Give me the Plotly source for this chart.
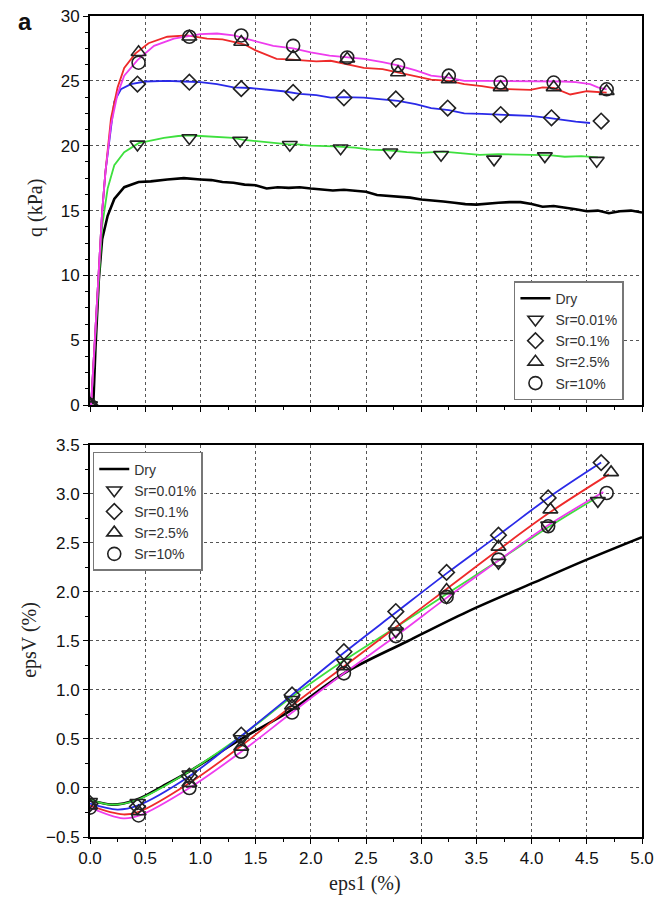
import plotly.graph_objects as go

# ---------------- data: top panel (q vs eps1) ----------------
dry_x = [0.0, 0.03, 0.05, 0.08, 0.11, 0.16, 0.22, 0.31, 0.44, 0.55, 0.7, 0.85, 1.0, 1.1, 1.2, 1.3, 1.4, 1.5,
         1.6, 1.7, 1.8, 1.9, 2.0, 2.1, 2.2, 2.3, 2.4, 2.5, 2.6, 2.7, 2.8, 2.9, 3.0, 3.1, 3.2, 3.3, 3.4, 3.5,
         3.6, 3.7, 3.8, 3.9, 4.0, 4.1, 4.2, 4.3, 4.4, 4.5, 4.6, 4.7, 4.8, 4.9, 5.0]
dry_q = [0.5, 0.1, 4.5, 9.7, 12.8, 14.6, 15.9, 16.8, 17.2, 17.25, 17.4, 17.5, 17.4, 17.35, 17.2, 17.15, 17.0,
         16.95, 16.7, 16.8, 16.75, 16.8, 16.7, 16.65, 16.55, 16.6, 16.5, 16.45, 16.2, 16.15, 16.05, 16.0, 15.85,
         15.8, 15.7, 15.6, 15.5, 15.46, 15.55, 15.6, 15.65, 15.65, 15.5, 15.3, 15.35, 15.25, 15.1, 14.95, 15.0,
         14.8, 14.95, 15.0, 14.85]

g_x = [0.01, 0.05, 0.08, 0.11, 0.16, 0.22, 0.31, 0.44, 0.55, 0.67, 0.8, 0.9, 1.0, 1.16, 1.3, 1.39, 1.5, 1.65,
       1.8, 1.88, 2.0, 2.21, 2.4, 2.54, 2.7, 2.87, 3.0, 3.2, 3.35, 3.53, 3.7, 3.85, 4.0, 4.18, 4.3, 4.45, 4.6]
g_q = [0, 5.8, 10.2, 13.8, 16.7, 18.5, 19.5, 20.2, 20.4, 20.6, 20.75, 20.8, 20.75, 20.7, 20.6, 20.45, 20.35,
       20.2, 20.1, 20.1, 20.0, 19.95, 19.85, 19.7, 19.65, 19.5, 19.45, 19.55, 19.45, 19.3, 19.35, 19.35, 19.3,
       19.25, 19.15, 19.2, 19.1]

b_x = [0.01, 0.05, 0.08, 0.11, 0.14, 0.19, 0.22, 0.28, 0.37, 0.5, 0.7, 0.85, 1.0, 1.15, 1.3, 1.45, 1.6, 1.75,
       1.9, 2.05, 2.18, 2.3, 2.48, 2.6, 2.79, 2.95, 3.09, 3.25, 3.39, 3.55, 3.69, 3.85, 3.99, 4.15, 4.29, 4.4, 4.53]
b_q = [0, 5.8, 11, 14.9, 18, 21.5, 23.4, 24.35, 24.75, 24.95, 25.0, 24.95, 24.9, 24.75, 24.5, 24.45, 24.35,
       24.2, 24.0, 23.9, 23.7, 23.75, 23.7, 23.6, 23.45, 23.2, 22.9, 22.75, 22.5, 22.45, 22.4, 22.35, 22.3,
       22.15, 21.95, 21.85, 21.75]

r_x = [0.01, 0.05, 0.08, 0.11, 0.14, 0.19, 0.25, 0.31, 0.41, 0.53, 0.7, 0.88, 1.06, 1.2, 1.3, 1.4, 1.5, 1.6,
       1.69, 1.8, 1.9, 2.05, 2.18, 2.33, 2.48, 2.65, 2.79, 2.95, 3.09, 3.25, 3.39, 3.55, 3.69, 3.85, 3.99, 4.1,
       4.2, 4.35, 4.5, 4.68]
r_q = [0, 5.8, 11, 14.9, 18, 22.1, 24.5, 26.0, 27.1, 27.9, 28.4, 28.5, 28.25, 28.2, 28.0, 27.8, 27.35, 27.0,
       26.7, 26.65, 26.6, 26.5, 26.55, 26.3, 26.0, 25.9, 25.65, 25.4, 25.1, 25.0, 24.75, 24.6, 24.4, 24.35,
       24.3, 24.5, 24.45, 23.95, 24.2, 24.1]

m_x = [0.01, 0.05, 0.08, 0.11, 0.14, 0.19, 0.25, 0.31, 0.43, 0.58, 0.76, 0.9, 1.0, 1.15, 1.3, 1.48, 1.66, 1.84,
       2.0, 2.17, 2.33, 2.48, 2.65, 2.79, 2.95, 3.09, 3.25, 3.39, 3.55, 3.69, 3.85, 3.99, 4.15, 4.29, 4.4, 4.53,
       4.6, 4.68]
m_q = [0, 5.8, 11, 14.9, 18, 21.6, 24.0, 25.4, 26.6, 27.7, 28.26, 28.45, 28.6, 28.65, 28.5, 28.1, 27.7, 27.5,
       27.2, 26.95, 26.8, 26.7, 26.45, 26.2, 25.8, 25.4, 25.25, 25.0, 25.0, 25.0, 24.95, 25.0, 24.95, 24.95,
       24.9, 24.75, 24.5, 24.35]

# top-panel markers
g_mx = [0.0, 0.43, 0.9, 1.36, 1.81, 2.27, 2.72, 3.18, 3.66, 4.12, 4.59]
g_mq = [0.0, 20.1, 20.6, 20.4, 20.08, 19.8, 19.5, 19.3, 18.95, 19.2, 18.85]
b_mx = [0.0, 0.43, 0.9, 1.37, 1.84, 2.3, 2.77, 3.24, 3.72, 4.18, 4.63]
b_mq = [0.0, 24.75, 24.9, 24.4, 24.1, 23.7, 23.6, 22.9, 22.4, 22.15, 21.9]
r_mx = [0.0, 0.44, 0.9, 1.37, 1.84, 2.33, 2.79, 3.25, 3.72, 4.2, 4.68]
r_mq = [0.0, 27.2, 28.4, 28.0, 26.85, 26.7, 25.65, 25.1, 24.5, 24.5, 24.2]
m_mx = [0.0, 0.44, 0.9, 1.37, 1.84, 2.33, 2.79, 3.25, 3.72, 4.2, 4.68]
m_mq = [0.0, 26.4, 28.4, 28.5, 27.7, 26.8, 26.2, 25.4, 24.87, 24.87, 24.35]

# ---------------- data: bottom panel (epsV vs eps1) ----------------
dry_vx = [0.0, 0.2, 0.42, 0.66, 0.9, 1.37, 1.83, 2.3, 2.88, 3.42, 4.03, 4.5, 5.0]
dry_v = [-0.12, -0.17, -0.12, 0.02, 0.17, 0.5, 0.8, 1.17, 1.5, 1.8, 2.1, 2.33, 2.56]
g_vx = [0.0, 0.2, 0.43, 0.9, 1.37, 1.83, 2.3, 2.77, 3.23, 3.7, 4.15, 4.6]
g_v = [-0.12, -0.17, -0.12, 0.17, 0.53, 0.93, 1.3, 1.64, 1.98, 2.32, 2.66, 2.97]
b_vx = [0.0, 0.25, 0.43, 0.9, 1.37, 1.83, 2.3, 2.77, 3.23, 3.7, 4.15, 4.63]
b_v = [-0.16, -0.22, -0.18, 0.12, 0.53, 0.95, 1.38, 1.79, 2.19, 2.58, 2.96, 3.32]
r_vx = [0.0, 0.3, 0.45, 0.9, 1.37, 1.83, 2.3, 2.77, 3.23, 3.7, 4.15, 4.7]
r_v = [-0.18, -0.27, -0.24, 0.05, 0.43, 0.84, 1.24, 1.64, 2.03, 2.43, 2.8, 3.2]
m_vx = [0.0, 0.3, 0.45, 0.9, 1.37, 1.83, 2.3, 2.77, 3.23, 3.7, 4.15, 4.65]
m_v = [-0.2, -0.31, -0.28, 0.0, 0.37, 0.77, 1.17, 1.55, 1.94, 2.32, 2.68, 3.02]

g_mvx = [0.0, 0.43, 0.9, 1.37, 1.83, 2.3, 2.77, 3.23, 3.7, 4.15, 4.6]
g_mv = [-0.14, -0.15, 0.14, 0.5, 0.9, 1.28, 1.6, 1.95, 2.3, 2.68, 2.93]
b_mvx = [0.0, 0.43, 0.9, 1.37, 1.83, 2.3, 2.77, 3.23, 3.7, 4.15, 4.63]
b_mv = [-0.16, -0.19, 0.12, 0.54, 0.95, 1.39, 1.8, 2.2, 2.58, 2.96, 3.32]
r_mvx = [0.0, 0.44, 0.9, 1.37, 1.83, 2.3, 2.77, 3.23, 3.7, 4.17, 4.72]
r_mv = [-0.18, -0.24, 0.05, 0.42, 0.84, 1.24, 1.65, 2.02, 2.46, 2.84, 3.22]
m_mvx = [0.0, 0.44, 0.9, 1.37, 1.83, 2.3, 2.77, 3.23, 3.7, 4.15, 4.68]
m_mv = [-0.2, -0.28, 0.0, 0.37, 0.77, 1.17, 1.55, 1.95, 2.33, 2.67, 3.01]

labels = ["Sr=0.01%", "Sr=0.1%", "Sr=2.5%", "Sr=10%"]
colors = ["#3ee03e", "#2a2ae8", "#ee2a2a", "#ee3cee"]
symbols = ["triangle-down-open", "diamond-open", "triangle-up-open", "circle-open"]
msizes = [13, 12, 13, 13]

fig = go.Figure()

top_lines = [(g_x, g_q), (b_x, b_q), (r_x, r_q), (m_x, m_q)]
top_marks = [(g_mx, g_mq), (b_mx, b_mq), (r_mx, r_mq), (m_mx, m_mq)]
bot_lines = [(g_vx, g_v), (b_vx, b_v), (r_vx, r_v), (m_vx, m_v)]
bot_marks = [(g_mvx, g_mv), (b_mvx, b_mv), (r_mvx, r_mv), (m_mvx, m_mv)]

# top panel
fig.add_trace(go.Scatter(x=dry_x, y=dry_q, mode="lines", line=dict(color="black", width=2.6),
                         name="Dry", legend="legend", xaxis="x", yaxis="y"))
for i in range(4):
    fig.add_trace(go.Scatter(x=top_lines[i][0], y=top_lines[i][1], mode="lines",
                             line=dict(color=colors[i], width=1.8), showlegend=False,
                             xaxis="x", yaxis="y"))
for i in range(4):
    fig.add_trace(go.Scatter(x=top_marks[i][0], y=top_marks[i][1], mode="markers",
                             marker=dict(symbol=symbols[i], size=msizes[i], color="#222",
                                         line=dict(width=1.6, color="#222")),
                             name=labels[i], legend="legend", xaxis="x", yaxis="y"))

# bottom panel
fig.add_trace(go.Scatter(x=dry_vx, y=dry_v, mode="lines", line=dict(color="black", width=2.6, shape="spline"),
                         name="Dry", legend="legend2", xaxis="x2", yaxis="y2"))
for i in range(4):
    fig.add_trace(go.Scatter(x=bot_lines[i][0], y=bot_lines[i][1], mode="lines",
                             line=dict(color=colors[i], width=1.8, shape="spline"), showlegend=False,
                             xaxis="x2", yaxis="y2"))
for i in range(4):
    fig.add_trace(go.Scatter(x=bot_marks[i][0], y=bot_marks[i][1], mode="markers",
                             marker=dict(symbol=symbols[i], size=msizes[i], color="#222",
                                         line=dict(width=1.6, color="#222")),
                             name=labels[i], legend="legend2", xaxis="x2", yaxis="y2"))

tickfont = dict(family="Liberation Sans, Arial, sans-serif", size=17, color="#111")
grid = dict(showgrid=True, gridcolor="#555", griddash="dot", gridwidth=1)
axline = dict(showline=True, linecolor="black", linewidth=2, mirror=True, zeroline=False,
              ticks="outside", ticklen=5, tickcolor="black", tickwidth=1.2, automargin=False)

xcommon = dict(range=[0, 5], dtick=0.5, tick0=0, tickformat=".1f",
               minor=dict(dtick=0.25, ticks="outside", ticklen=3, tickcolor="black", showgrid=False),
               tickfont=tickfont, **grid, **axline)

legfont = dict(family="Liberation Sans, Arial, sans-serif", size=14, color="#333")

fig.update_layout(
    width=658, height=899,
    margin=dict(l=90, r=16, t=16, b=62, autoexpand=False),
    paper_bgcolor="white", plot_bgcolor="white",
    xaxis=dict(domain=[0, 1], anchor="y", showticklabels=False, **xcommon),
    yaxis=dict(domain=[0.526, 1], anchor="x", range=[0, 30], dtick=5, tick0=0,
               minor=dict(dtick=1.25, ticks="outside", ticklen=3, tickcolor="black", showgrid=False),
               tickfont=tickfont, **grid, **axline),
    xaxis2=dict(domain=[0, 1], anchor="y2", matches="x", showticklabels=True, **xcommon),
    yaxis2=dict(domain=[0, 0.4775], anchor="x2", range=[-0.5, 3.5], dtick=0.5, tick0=0, tickformat=".1f",
                minor=dict(dtick=0.25, ticks="outside", ticklen=3, tickcolor="black", showgrid=False),
                tickfont=tickfont, **grid, **axline),
    legend=dict(x=0.768, y=0.677, xanchor="left", yanchor="top", bgcolor="white",
                bordercolor="#777", borderwidth=1.5, font=legfont,
                itemwidth=30, tracegroupgap=0),
    legend2=dict(x=0.005, y=0.469, xanchor="left", yanchor="top", bgcolor="white",
                 bordercolor="#777", borderwidth=1.5, font=legfont,
                 itemwidth=30, tracegroupgap=0),
    showlegend=True,
    annotations=[
        dict(text="q (kPa)", x=-0.1, y=0.766, xref="paper", yref="paper", textangle=-90, showarrow=False,
             xanchor="center", yanchor="middle",
             font=dict(family="Liberation Serif, Times New Roman, serif", size=20, color="#222")),
        dict(text="epsV (%)", x=-0.109, y=0.24, xref="paper", yref="paper", textangle=-90, showarrow=False,
             xanchor="center", yanchor="middle",
             font=dict(family="Liberation Serif, Times New Roman, serif", size=20, color="#222")),
        dict(text="eps1 (%)", x=0.498, y=-0.057, xref="paper", yref="paper", showarrow=False,
             xanchor="center", yanchor="middle",
             font=dict(family="Liberation Serif, Times New Roman, serif", size=20, color="#222")),
        dict(text="<b>a</b>", x=-0.118, y=0.993, xref="paper", yref="paper", showarrow=False,
             xanchor="center", yanchor="middle",
             font=dict(family="Liberation Sans, Arial, sans-serif", size=24, color="#111")),
    ],
)

fig.write_html("out.html")
